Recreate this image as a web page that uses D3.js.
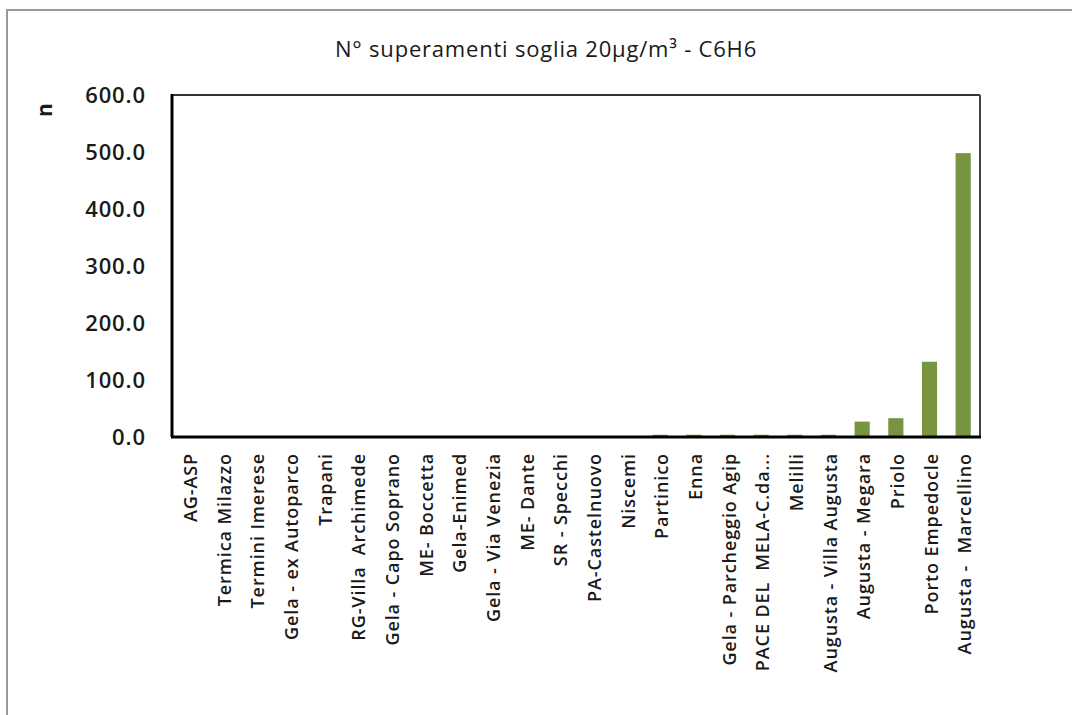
<!DOCTYPE html>
<html>
<head>
<meta charset="utf-8">
<script src="https://cdn.jsdelivr.net/npm/d3@7"></script>
<style>
  body { margin: 0; background: #fff; }
  svg { display: block; font-family: "Open Sans", "Noto Sans", sans-serif; }
  svg text { white-space: pre; }
</style>
</head>
<body>
<svg id="chart" width="1072" height="715"></svg>
<script>
// Monitoring stations (x categories) and number of exceedances of the 20 µg/m³ benzene threshold
const stations = [
  "AG-ASP", "Termica Milazzo", "Termini Imerese", "Gela - ex Autoparco", "Trapani",
  "RG-Villa  Archimede", "Gela - Capo Soprano", "ME- Boccetta", "Gela-Enimed",
  "Gela - Via Venezia", "ME- Dante", "SR - Specchi", "PA-Castelnuovo", "Niscemi",
  "Partinico", "Enna", "Gela - Parcheggio Agip", "PACE DEL  MELA-C.da...", "Melilli",
  "Augusta - Villa Augusta", "Augusta - Megara", "Priolo", "Porto Empedocle",
  "Augusta -  Marcellino"
];
const exceedances = [
  0, 0, 0, 0, 0,
  0, 0, 0, 0,
  0, 0, 0, 0, 0,
  4, 4, 4, 4, 4,
  4, 27, 33, 132,
  498
];
const yTicks = [0, 100, 200, 300, 400, 500, 600];

const svg = d3.select("#chart");
const W = 1072, H = 715;
const plot = { left: 172, top: 95, right: 980, bottom: 437 };

// outer frame of the figure
svg.append("path")
  .attr("d", `M7,${H} V10 H${W}`)
  .attr("fill", "none")
  .attr("stroke", "#9a9a9a")
  .attr("stroke-width", 2);

const x = d3.scaleBand()
  .domain(stations)
  .range([plot.left, plot.right])
  .paddingInner(0.55)
  .paddingOuter(0.275);

const y = d3.scaleLinear()
  .domain([0, 600])
  .range([plot.bottom, plot.top]);

// title
svg.append("text")
  .attr("x", 546)
  .attr("y", 57)
  .attr("text-anchor", "middle")
  .attr("font-size", 22)
  .attr("letter-spacing", 0.8)
  .attr("fill", "#1a1a1a")
  .text("N° superamenti soglia 20µg/m³ - C6H6");

// bars
svg.append("g")
  .selectAll("rect")
  .data(stations.map((s, i) => ({ s, v: exceedances[i] })))
  .join("rect")
  .attr("x", d => x(d.s))
  .attr("width", x.bandwidth())
  .attr("y", d => y(d.v))
  .attr("height", d => plot.bottom - y(d.v))
  .attr("fill", "#779441");

// y axis labels
const yAxis = d3.axisLeft(y)
  .tickValues(yTicks)
  .tickFormat(d3.format(".1f"))
  .tickSize(0)
  .tickPadding(26);
const gy = svg.append("g")
  .attr("transform", `translate(${plot.left},0)`)
  .call(yAxis);
gy.select(".domain").remove();
gy.selectAll("text")
  .attr("font-size", 22)
  .attr("font-weight", 600)
  .attr("font-family", "'Open Sans', sans-serif")
  .attr("letter-spacing", 0.9)
  .attr("fill", "#1a1a1a");

// y axis title
svg.append("text")
  .attr("transform", "translate(52,110) rotate(-90)")
  .attr("text-anchor", "middle")
  .attr("font-size", 21)
  .attr("font-weight", 700)
  .attr("fill", "#1a1a1a")
  .text("n");

// x axis labels, rotated
const xAxis = d3.axisBottom(x).tickSize(0).tickPadding(0);
const gx = svg.append("g")
  .attr("transform", `translate(0,${plot.bottom})`)
  .call(xAxis);
gx.select(".domain").remove();
gx.selectAll("text")
  .attr("transform", "translate(8,16) rotate(-90)")
  .attr("text-anchor", "end")
  .attr("dy", "0")
  .attr("x", 0)
  .attr("y", 0)
  .attr("font-size", 18)
  .attr("font-weight", 600)
  .attr("letter-spacing", 0.9)
  .attr("font-family", "'Open Sans', sans-serif")
  .attr("fill", "#1a1a1a");

// plot area frame
svg.append("path")
  .attr("d", `M${plot.left},${plot.bottom} V${plot.top} H${plot.right}`)
  .attr("fill", "none").attr("stroke", "#333").attr("stroke-width", 2);
svg.append("path")
  .attr("d", `M${plot.right},${plot.top} V${plot.bottom}`)
  .attr("fill", "none").attr("stroke", "#444").attr("stroke-width", 2);
svg.append("path")
  .attr("d", `M${plot.left - 1},${plot.bottom} H${plot.right + 1}`)
  .attr("fill", "none").attr("stroke", "#000").attr("stroke-width", 3);
svg.append("path")
  .attr("d", `M${plot.left},${plot.bottom} V${plot.top - 1}`)
  .attr("fill", "none").attr("stroke", "#000").attr("stroke-width", 3);
</script>
</body>
</html>
